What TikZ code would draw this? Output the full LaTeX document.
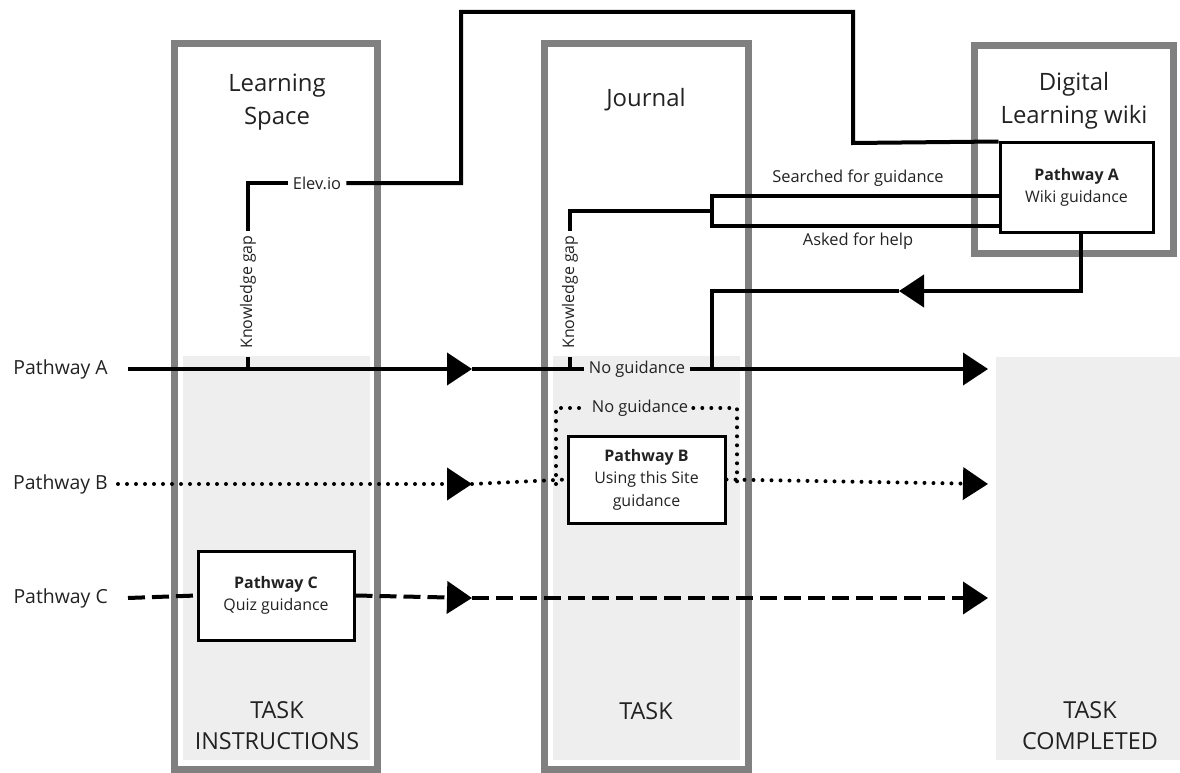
\documentclass[tikz,border=0pt]{standalone}
\usepackage{fontspec}
\setmainfont{Open Sans}
\usetikzlibrary{arrows.meta}
\definecolor{framegray}{HTML}{808080}
\definecolor{zonegray}{HTML}{EEEEEE}
\definecolor{textgray}{HTML}{222222}
\begin{document}
\begin{tikzpicture}[x=1bp,y=-1bp,
  frame/.style={draw=framegray,line width=7bp},
  title/.style={align=center,font=\fontsize{24}{33}\selectfont,text=textgray},
  tasklbl/.style={align=center,font=\fontsize{23.5}{31}\selectfont,text=textgray},
  plabel/.style={anchor=east,font=\fontsize{19.5}{22}\selectfont,inner sep=0pt,text=textgray},
  small/.style={font=\fontsize{16.5}{19}\selectfont,inner sep=5bp,text=textgray},
  kgap/.style={font=\fontsize{16}{18}\selectfont,rotate=90,inner sep=4bp,text=textgray},
  gbox/.style={draw,line width=3bp,fill=white,align=center,font=\fontsize{16}{22.5}\selectfont,inner sep=0pt,text=textgray},
  link/.style={line width=4bp,line join=miter},
  dotl/.style={line width=4bp,line cap=round,dash pattern=on 0bp off 9bp},
  dashl/.style={line width=4bp,dash pattern=on 17bp off 7bp},
  tip/.style={-{Triangle[length=25bp,width=32bp]}}
]
\useasboundingbox (0,0) rectangle (1180,773);

% shaded task zones
\fill[zonegray] (183,356) rectangle (370,760);
\fill[zonegray] (553,356) rectangle (740,760);
\fill[zonegray] (996,357) rectangle (1180,760);

% frames
\draw[frame] (174.5,43.5) rectangle (377.5,769.5);
\draw[frame] (544.5,43.5) rectangle (748,769.5);
\draw[frame] (974,45.5) rectangle (1173.5,253);

% titles
\node[title] (ls) at (277,102) {Learning\\Space};
\node[title] (jr) at (646,100) {Journal};
\node[title] (wk) at (1074,101) {Digital\\Learning wiki};

% task labels
\node[tasklbl] (ti) at (277,726) {TASK\\INSTRUCTIONS};
\node[tasklbl] (tk) at (646,711) {TASK};
\node[tasklbl] (tc) at (1090,726) {TASK\\COMPLETED};

% guidance boxes
\node[gbox,minimum width=153bp,minimum height=89bp] (bA) at (1076.5,187.5) {\textbf{Pathway A}\\Wiki guidance};
\node[gbox,minimum width=157bp,minimum height=87bp] (bB) at (646.5,479.5) {\textbf{Pathway B}\\Using this Site\\guidance};
\node[gbox,minimum width=156bp,minimum height=89bp] (bC) at (276,595.5) {\textbf{Pathway C}\\Quiz guidance};

% pathway labels
\node[plabel] (lA) at (108,369) {Pathway A};
\node[plabel] (lB) at (108,484) {Pathway B};
\node[plabel] (lC) at (108,598) {Pathway C};

% coordinates
\coordinate (sA) at (128,369); \coordinate (mA) at (472,369); \coordinate (eA) at (988,369);
\coordinate (sB) at (118,484); \coordinate (mB) at (472,484); \coordinate (eB) at (988,484);
\coordinate (sC) at (128,598); \coordinate (mC) at (472,598); \coordinate (eC) at (988,598);

% small labels
\node[small] (ngA) at (637,369) {No guidance};
\node[small] (ngB) at (640,408) {No guidance};
\node[small] (elev) at (317,183) {Elev.io};
\node[small] (sg) at (858,178) {Searched for guidance};
\node[small] (ah) at (858,241) {Asked for help};
\node[kgap] (kg1) at (248,292) {Knowledge gap};
\node[kgap] (kg2) at (570,292) {Knowledge gap};

% Pathway A
\draw[link,tip] (sA) -- (mA);
\draw[link] (mA) -- (ngA.west);
\draw[link,tip] (ngA.east) -- (eA);

% knowledge gap (learning space) and Elev.io route
\coordinate (k1b) at (248,369); \coordinate (k1t) at (248,357);
\draw[link] (k1b) -- (k1t);
\draw[link] (kg1.east) |- (elev.west);
\coordinate (c1) at (461,12); \coordinate (c2) at (853,143);
\draw[link] (elev.east) -| (c1) -| (c2) -- (bA.north west);

% knowledge gap (journal) to wiki
\coordinate (k2b) at (570,369); \coordinate (k2t) at (570,357);
\draw[link] (k2b) -- (k2t);
\coordinate (br1) at (712,196); \coordinate (br2) at (712,226); \coordinate (brm) at (712,211);
\draw[link] (kg2.east) |- (brm);
\draw[link] (bA.west |- br1) -- (br1) -- (br2) -- (bA.west |- br2);

% return from wiki
\coordinate (r1) at (1081,291); \coordinate (ra) at (899,291);
\coordinate (r2) at (712,291); \coordinate (r3) at (712,369);
\draw[link,tip] (bA.south -| r1) -- (r1) -- (ra);
\draw[link] (ra) -- (r2) -- (r3);

% Pathway B
\coordinate (d1) at (556,484); \coordinate (d2) at (737,484);
\draw[dotl,tip] (sB) -- (mB);
\draw[dotl] (mB) -- (bB.west);
\draw[dotl,tip] (bB.east) -- (eB);
\draw[dotl] (d1) |- (ngB.west);
\draw[dotl] (ngB.east) -| (d2);

% Pathway C
\draw[dashl] (sC) -- (bC.west);
\draw[dashl,tip] (bC.east) -- (mC);
\draw[dashl,tip] (mC) -- (eC);
\end{tikzpicture}
\end{document}
